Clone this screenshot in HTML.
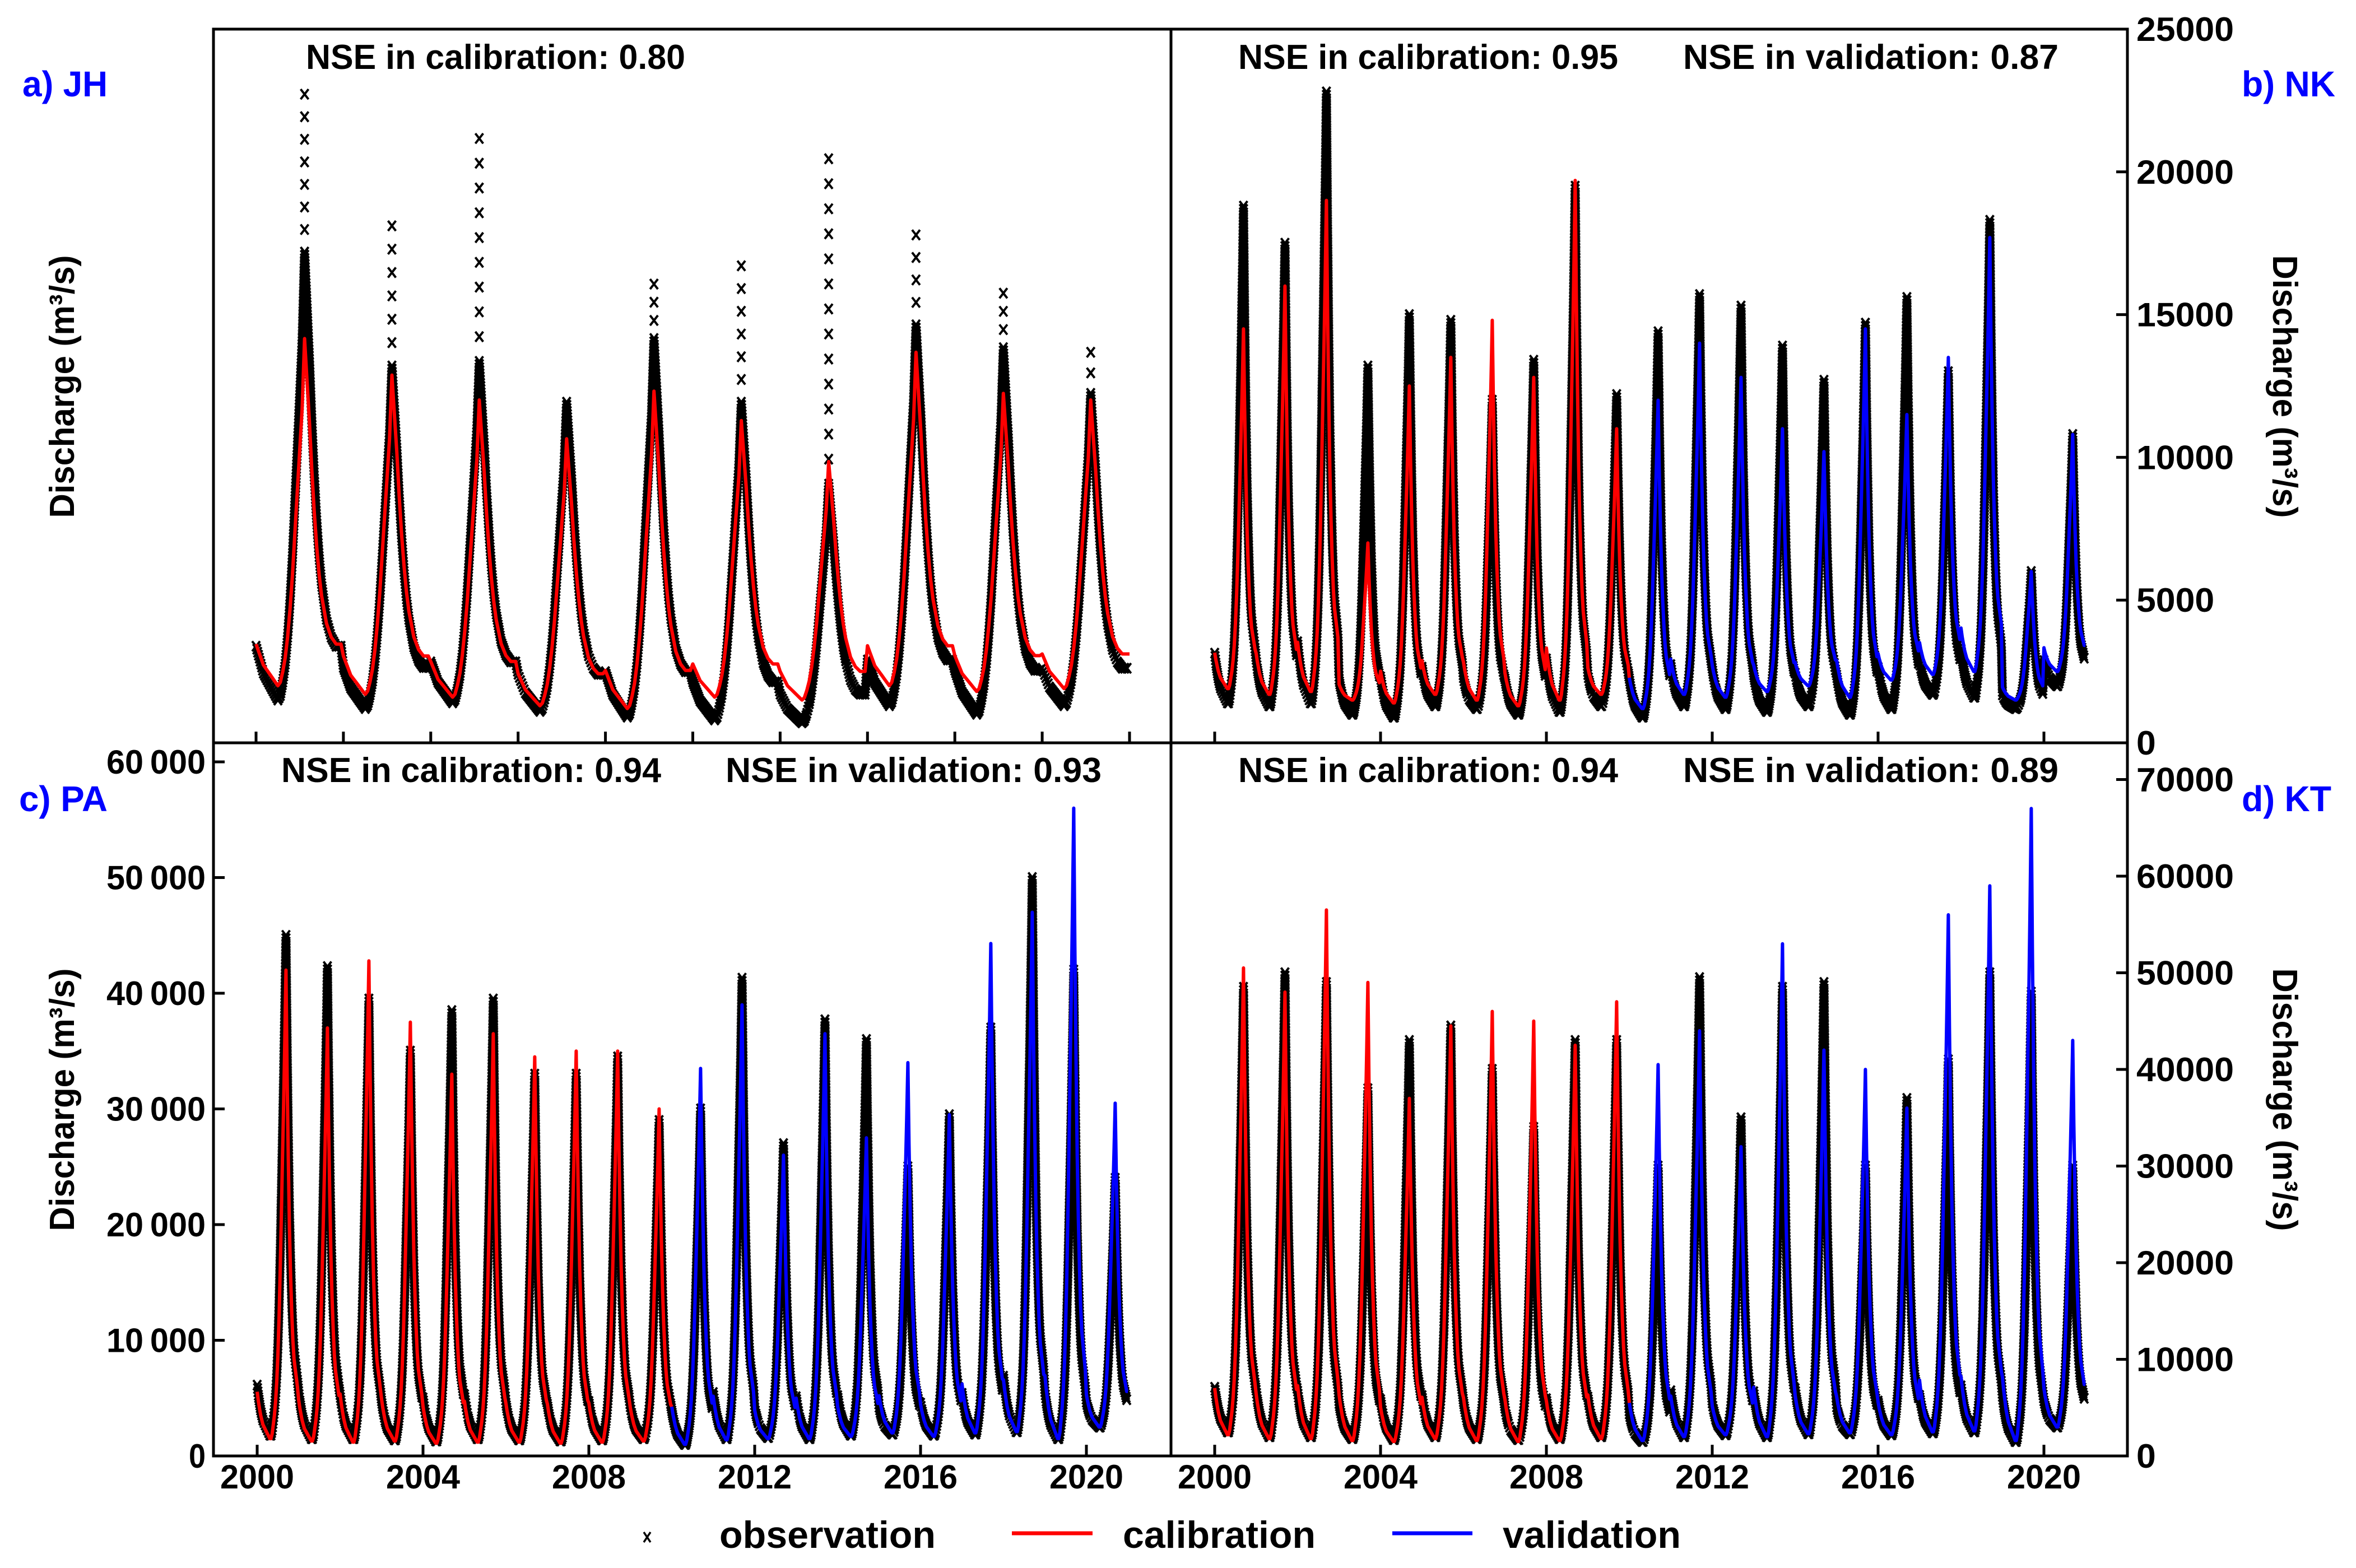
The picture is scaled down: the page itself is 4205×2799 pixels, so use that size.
<!DOCTYPE html>
<html><head><meta charset="utf-8"><title>Discharge calibration/validation</title>
<style>
html,body{margin:0;padding:0;background:#fff;}
svg{display:block;}
text{font-family:"Liberation Sans",Arial,sans-serif;font-weight:bold;}
</style></head>
<body>
<svg id="fig" xmlns="http://www.w3.org/2000/svg" width="4205" height="2799" viewBox="0 0 4205 2799">
<rect x="0" y="0" width="4205" height="2799" fill="#fff"/>
<g id="marks"></g>
<g id="frame" stroke="#000" stroke-width="5" fill="none">
  <rect x="381" y="52" width="3416" height="2547"/>
  <line x1="2090" y1="52" x2="2090" y2="2599"/>
  <line x1="381" y1="1326" x2="3797" y2="1326"/>
</g>
<g id="axes"></g>
<text x="40" y="172" font-size="64" fill="#0000ff" textLength="152" lengthAdjust="spacingAndGlyphs">a) JH</text>
<text x="4001" y="172" font-size="64" fill="#0000ff" textLength="167" lengthAdjust="spacingAndGlyphs">b) NK</text>
<text x="34" y="1448" font-size="64" fill="#0000ff" textLength="158" lengthAdjust="spacingAndGlyphs">c) PA</text>
<text x="4001" y="1448" font-size="64" fill="#0000ff" textLength="160" lengthAdjust="spacingAndGlyphs">d) KT</text>
<text x="546" y="123" font-size="62" textLength="677" lengthAdjust="spacingAndGlyphs">NSE in calibration: 0.80</text>
<text x="2210" y="123" font-size="62" textLength="678" lengthAdjust="spacingAndGlyphs">NSE in calibration: 0.95</text>
<text x="3004" y="123" font-size="62" textLength="670" lengthAdjust="spacingAndGlyphs">NSE in validation:  0.87</text>
<text x="502" y="1396" font-size="62" textLength="678" lengthAdjust="spacingAndGlyphs">NSE in calibration: 0.94</text>
<text x="1295" y="1396" font-size="62" textLength="671" lengthAdjust="spacingAndGlyphs">NSE in validation:  0.93</text>
<text x="2210" y="1396" font-size="62" textLength="678" lengthAdjust="spacingAndGlyphs">NSE in calibration: 0.94</text>
<text x="3004" y="1396" font-size="62" textLength="670" lengthAdjust="spacingAndGlyphs">NSE in validation:  0.89</text>
<text transform="translate(132,690) rotate(-90)" text-anchor="middle" font-size="62" textLength="469" lengthAdjust="spacingAndGlyphs">Discharge (m³/s)</text>
<text transform="translate(132,1963) rotate(-90)" text-anchor="middle" font-size="62" textLength="469" lengthAdjust="spacingAndGlyphs">Discharge (m³/s)</text>
<text transform="translate(4057,690) rotate(90)" text-anchor="middle" font-size="62" textLength="469" lengthAdjust="spacingAndGlyphs">Discharge (m³/s)</text>
<text transform="translate(4057,1963) rotate(90)" text-anchor="middle" font-size="62" textLength="469" lengthAdjust="spacingAndGlyphs">Discharge (m³/s)</text>
<g>
  <path d="M1149,2735 L1161,2753 M1161,2735 L1149,2753" stroke="#000" stroke-width="3.5"/>
  <text x="1284" y="2763" font-size="68" textLength="386" lengthAdjust="spacingAndGlyphs">observation</text>
  <line x1="1806" y1="2737" x2="1950" y2="2737" stroke="#ff0000" stroke-width="7"/>
  <text x="2004" y="2763" font-size="68" textLength="344" lengthAdjust="spacingAndGlyphs">calibration</text>
  <line x1="2485" y1="2737" x2="2628" y2="2737" stroke="#0000ff" stroke-width="7"/>
  <text x="2682" y="2763" font-size="68" textLength="318" lengthAdjust="spacingAndGlyphs">validation</text>
</g>
</svg>
<script>
const yearsMain = [2000,2001,2002,2003,2004,2005,2006,2007,2008,2009,2010,2011,2012,2013,2014,2015,2016,2017,2018,2019,2020];
const yearsJH = [0,1,2,3,4,5,6,7,8,9];
const calibEndYear = 2010;

const profileMekong = [0.10,0.08,0.065,0.05,0.04,0.03,0.025,0.02,0.015,0.01,0.005,0,0,0.01,0.03,0.05,0.08,0.12,0.18,0.26,0.36,0.48,0.6,0.72,0.85,1.0,0.78,0.6,0.45,0.35,0.27,0.21,0.17,0.15,0.13,0.11];
const profileJH = [0.12,0.10,0.08,0.06,0.05,0.04,0.03,0.02,0.01,0,0.01,0.04,0.08,0.14,0.22,0.32,0.44,0.56,0.68,0.8,1.0,0.88,0.76,0.62,0.5,0.4,0.32,0.26,0.22,0.18,0.16,0.14,0.13,0.12,0.12,0.12];

const jhObsPeak = [17190,13200,13360,11930,14160,11930,9060,14640,13840,12240];
const jhObsOutlier = [22720,18110,21170,11930,16070,16710,20460,17790,15750,13680];
const jhObsLow = [1500,1200,1400,1100,900,800,700,1300,1000,1300];
const jhSimPeak = [14160,12880,12010,10650,12320,11290,9850,13680,12240,12010];
const jhSimLow = [2000,1700,1600,1300,1200,1600,1500,2000,1800,1900];

const nkObsPeak = [18800,17500,22800,13200,15000,14800,12000,13400,19500,12200,14400,15700,15300,13900,12700,14700,15600,13000,18300,6000,10800];
const nkObsLow = [1400,1300,1400,1000,900,1300,1200,1000,1100,1300,900,1300,1200,1100,1300,1000,1200,1700,1600,1200,2000];
const nkSimPeak = [14500,16000,19000,7000,12500,13500,14800,12800,19700,11000,12000,14000,12800,11000,10200,14500,11500,13500,17700,6000,10800];
const nkSimLow = [1900,1700,1800,1500,1400,1700,1500,1300,1500,1700,1200,1700,1600,1800,2000,1600,2200,2400,2500,1500,2500];

const paObsPeak = [45000,42300,39500,35000,38500,39500,33000,33000,34500,29000,30000,41300,27000,37700,36000,25000,29500,37000,50000,42000,24000];
const paObsLow = [1800,1500,1500,1400,1300,1500,1400,1300,1400,1500,1000,1500,1600,1500,1800,1900,1800,1900,2100,1500,2500];
const paSimPeak = [42000,37000,42800,37500,33000,36500,34500,35000,35000,30000,33500,39000,26000,36500,27500,34000,29500,44300,47000,56000,30500];
const paSimLow = [1500,1300,1200,1300,1100,1200,1200,1100,1200,1300,1000,1400,1500,1500,1700,2000,1700,2000,2100,1500,2500];

const ktObsPeak = [48500,50000,49000,38000,43000,44500,40000,34000,43000,43000,30000,49500,35000,48500,49000,30000,37000,41000,50000,48000,30000];
const ktObsLow = [2500,2000,2000,1800,1700,2000,1800,1700,1800,2000,1500,2000,2200,2000,2300,2300,2200,2400,2500,1500,3000];
const ktSimPeak = [50500,48000,56500,49000,37000,44500,46000,45000,42500,47000,40500,44000,32000,53000,42000,40000,36000,56000,59000,67000,43000];
const ktSimLow = [2200,1800,1800,1600,1500,1800,1600,1500,1600,1800,1600,2000,2200,2000,2300,2400,2200,2500,2600,1600,3000];

const xTicksMain = [2000,2004,2008,2012,2016,2020];
const xTicksJH = [0,1,2,3,4,5,6,7,8,9,10];
const yTicksNK = [0,5000,10000,15000,20000,25000];
const yTicksPA = [0,10000,20000,30000,40000,50000,60000];
const yTicksKT = [0,10000,20000,30000,40000,50000,60000,70000];

const NS = 'http://www.w3.org/2000/svg';
const marks = document.getElementById('marks');
const axes = document.getElementById('axes');

const panels = {
  a:{x:t=>457+t*155.9, y:v=>1326-v*1274/25000},
  b:{x:t=>2168+(t-2000)*74, y:v=>1326-v*1274/25000},
  c:{x:t=>459+(t-2000)*74, y:v=>2599-v*206.5/10000},
  d:{x:t=>2168+(t-2000)*74, y:v=>2599-v*172.5/10000}
};

function buildSeries(years, lows, peaks, prof){
  const pts = [];
  for(let k=0;k<years.length;k++){
    for(let i=0;i<prof.length;i++){
      pts.push({t: years[k] + i/prof.length, v: lows[k] + prof[i]*(peaks[k]-lows[k])});
    }
  }
  const last = years.length-1;
  pts.push({t: years[last]+1, v: lows[last] + prof[prof.length-1]*(peaks[last]-lows[last])});
  return pts;
}

function crossD(x,y){
  return 'M'+(x-7).toFixed(1)+','+(y-9).toFixed(1)+'l14,18M'+(x+7).toFixed(1)+','+(y-9).toFixed(1)+'l-14,18';
}

function drawObs(panelKey, pts, extraCols){
  const P = panels[panelKey];
  let d = '';
  for(let i=0;i<pts.length-1;i++){
    const x1=P.x(pts[i].t), y1=P.y(pts[i].v), x2=P.x(pts[i+1].t), y2=P.y(pts[i+1].v);
    const n = Math.max(1, Math.ceil(Math.hypot(x2-x1,y2-y1)/6));
    for(let s=0;s<n;s++){
      const f=s/n;
      d += crossD(x1+(x2-x1)*f, y1+(y2-y1)*f);
    }
  }
  if(extraCols){
    extraCols.forEach(c=>{
      const x=P.x(c.t), yTop=P.y(c.top), yBase=P.y(c.base);
      const n = Math.max(1, Math.ceil((yBase-yTop)/45));
      for(let s=0;s<=n;s++){ d += crossD(x, yBase+(yTop-yBase)*s/n); }
    });
  }
  const p = document.createElementNS(NS,'path');
  p.setAttribute('d', d);
  p.setAttribute('stroke', '#000');
  p.setAttribute('stroke-width', '4');
  p.setAttribute('fill', 'none');
  
  
  marks.appendChild(p);
}

function drawSim(panelKey, pts, splitT, hasValidation){
  const P = panels[panelKey];
  let dCal='', dVal='';
  pts.forEach((p)=>{
    const s = P.x(p.t).toFixed(1)+','+P.y(p.v).toFixed(1);
    if(!hasValidation || p.t <= splitT){ dCal += (dCal?'L':'M')+s; }
    if(hasValidation && p.t >= splitT){ dVal += (dVal?'L':'M')+s; }
  });
  const c = document.createElementNS(NS,'path');
  c.setAttribute('d', dCal);
  c.setAttribute('stroke', '#ff0000');
  c.setAttribute('stroke-width', '6');
  c.setAttribute('fill', 'none');
  c.setAttribute('stroke-linejoin', 'round');
  
  
  marks.appendChild(c);
  if(hasValidation){
    const v = document.createElementNS(NS,'path');
    v.setAttribute('d', dVal);
    v.setAttribute('stroke', '#0000ff');
    v.setAttribute('stroke-width', '6');
    v.setAttribute('fill', 'none');
    v.setAttribute('stroke-linejoin', 'round');
    
    
    marks.appendChild(v);
  }
}

const jhCols = yearsJH.map((y,k)=>({t:y+20/36, top:jhObsOutlier[k], base:jhObsPeak[k]}));
drawObs('a', buildSeries(yearsJH, jhObsLow, jhObsPeak, profileJH), jhCols);
drawSim('a', buildSeries(yearsJH, jhSimLow, jhSimPeak, profileJH), 99, false);
drawObs('b', buildSeries(yearsMain, nkObsLow, nkObsPeak, profileMekong));
drawSim('b', buildSeries(yearsMain, nkSimLow, nkSimPeak, profileMekong), calibEndYear, true);
drawObs('c', buildSeries(yearsMain, paObsLow, paObsPeak, profileMekong));
drawSim('c', buildSeries(yearsMain, paSimLow, paSimPeak, profileMekong), calibEndYear, true);
drawObs('d', buildSeries(yearsMain, ktObsLow, ktObsPeak, profileMekong));
drawSim('d', buildSeries(yearsMain, ktSimLow, ktSimPeak, profileMekong), calibEndYear, true);

function tickLine(x1,y1,x2,y2,name){
  const l = document.createElementNS(NS,'line');
  l.setAttribute('x1',x1); l.setAttribute('y1',y1); l.setAttribute('x2',x2); l.setAttribute('y2',y2);
  l.setAttribute('stroke','#000'); l.setAttribute('stroke-width','5');
  
  
  axes.appendChild(l);
}
function label(x,y,str,anchor,len,name){
  const t = document.createElementNS(NS,'text');
  t.setAttribute('x',x); t.setAttribute('y',y);
  t.setAttribute('font-size','60');
  t.setAttribute('text-anchor',anchor);
  t.setAttribute('textLength',len);
  t.setAttribute('lengthAdjust','spacingAndGlyphs');
  t.textContent = str;
  
  
  axes.appendChild(t);
}
function fmtSpace(v){ return v>=10000 ? String(Math.floor(v/1000))+'\u2009'+String(v%1000).padStart(3,'0') : String(v); }

xTicksJH.forEach(t=>{ const x=panels.a.x(t); tickLine(x,1326,x,1306,'x-tick-a'); });
xTicksMain.forEach(t=>{
  const xb=panels.b.x(t); tickLine(xb,1326,xb,1306,'x-tick-b');
  const xc=panels.c.x(t); tickLine(xc,2599,xc,2579,'x-tick-c');
  label(xc,2657,String(t),'middle',132,'x-tick-label-c');
  const xd=panels.d.x(t); tickLine(xd,2599,xd,2579,'x-tick-d');
  label(xd,2657,String(t),'middle',132,'x-tick-label-d');
});
yTicksNK.forEach(v=>{
  const y=panels.b.y(v); tickLine(3797,y,3777,y,'y-tick-b');
  const s=String(v); label(3813,y+21,s,'start',s.length*34.8,'y-tick-label-b');
});
yTicksPA.forEach(v=>{
  const y=panels.c.y(v); tickLine(381,y,401,y,'y-tick-c');
  const s=fmtSpace(v); label(367,y+21,s,'end',v>=10000?177:30,'y-tick-label-c');
});
yTicksKT.forEach(v=>{
  const y=panels.d.y(v); tickLine(3797,y,3777,y,'y-tick-d');
  const s=String(v); label(3813,y+21,s,'start',s.length*34.8,'y-tick-label-d');
});
</script>
</body></html>
